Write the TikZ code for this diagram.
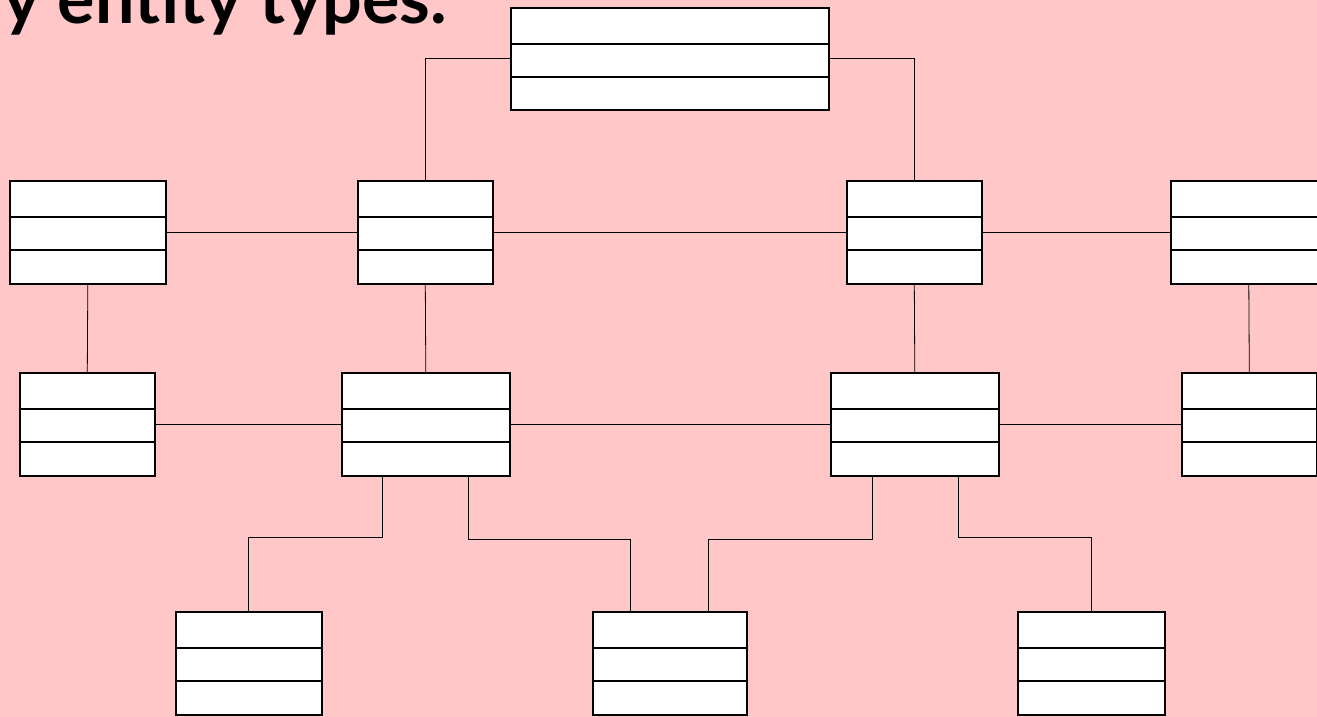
\documentclass[tikz,border=0pt]{standalone}
\usepackage{fontspec}
\newfontfamily\titlefont{Lato}
\definecolor{bgpink}{RGB}{255,199,199}
\tikzset{
  ebox/.style={draw=black, line width=1.6pt, fill=white, rectangle, inner sep=0pt, anchor=north west},
  divider/.style={draw=black, line width=1.6pt},
  link/.style={draw=black, line width=0.8pt},
}
\newcommand{\entitybox}[5]{% name, left, top, right, bottom
  \node[ebox, minimum width={#4-#2}, minimum height={#5-#3}] (#1) at (#2,-#3) {};
  \draw[divider] ([yshift=-37pt]#1.north west) -- ([yshift=-37pt]#1.north east);
  \draw[divider] ([yshift=-70pt]#1.north west) -- ([yshift=-70pt]#1.north east);
}
\begin{document}
\begin{tikzpicture}[x=1pt,y=1pt]
\useasboundingbox (0,0) rectangle (1317,-717);
\clip (0,0) rectangle (1317,-717);
\fill[bgpink] (0,0) rectangle (1317,-717);
\node[anchor=base east, inner sep=0pt, font=\titlefont\bfseries\fontsize{70}{72}\selectfont] (title) at (447,-24) {y entity types.};
% boxes
\entitybox{T}{510}{7}{828}{109}
\entitybox{A0}{9}{180}{165}{283}
\entitybox{A1}{357}{180}{492}{283}
\entitybox{A2}{846}{180}{981}{283}
\entitybox{A3}{1170}{180}{1326}{283}
\entitybox{M0}{19}{372}{154}{475}
\entitybox{M1}{341}{372}{509}{475}
\entitybox{M2}{830}{372}{998}{475}
\entitybox{M3}{1181}{372}{1316}{475}
\entitybox{B0}{175}{611}{321}{714}
\entitybox{B1}{592}{611}{746}{714}
\entitybox{B2}{1017}{611}{1164}{714}
% connectors
\draw[link] (T.west) -| (A1.north);
\draw[link] (T.east) -| (A2.north);
\draw[link] (A0.east) -- (A1.west);
\draw[link] (A1.east) -- (A2.west);
\draw[link] (A2.east) -- (A3.west);
\draw[link] (A0.south) -- (M0.north);
\draw[link] (A1.south) -- (M1.north);
\draw[link] (A2.south) -- (M2.north);
\draw[link] (A3.south) -- (M3.north);
\draw[link] (M0.east) -- (M1.west);
\draw[link] (M1.east) -- (M2.west);
\draw[link] (M2.east) -- (M3.west);
\coordinate (m1a) at ([xshift=41pt]M1.south west);
\coordinate (m1b) at ([xshift=-42pt]M1.south east);
\coordinate (m2a) at ([xshift=42pt]M2.south west);
\coordinate (m2b) at ([xshift=-41pt]M2.south east);
\coordinate (b1a) at ([xshift=-39pt]B1.north);
\coordinate (b1b) at ([xshift=39pt]B1.north);
\draw[link] (m1a) -- ++(0,-61) -| (B0.north);
\draw[link] (m1b) -- ++(0,-63) -| (b1a);
\draw[link] (m2a) -- ++(0,-63) -| (b1b);
\draw[link] (m2b) -- ++(0,-61) -| (B2.north);
\end{tikzpicture}
\end{document}
